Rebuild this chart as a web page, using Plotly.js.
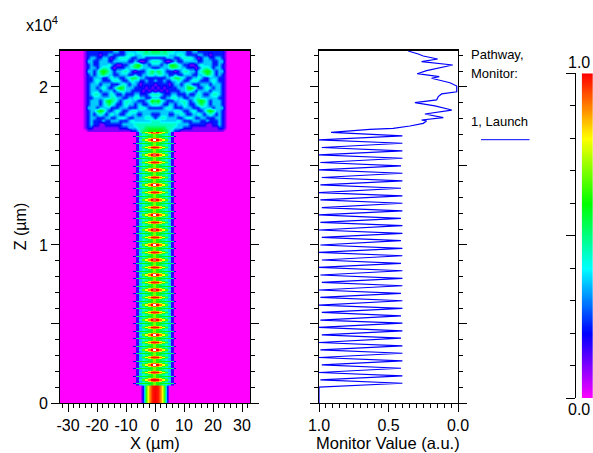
<!DOCTYPE html>
<html><head><meta charset="utf-8">
<script src="https://cdn.plot.ly/plotly-3.0.1.min.js"></script>
<style>html,body{margin:0;padding:0;background:#fff}</style></head>
<body><div id="chart" style="width:593px;height:453px"></div>
<script>
// ---------- field data (half profiles, centre -> edge; pattern is mirror symmetric)
const inputProfile = [1,0.98,0.87,0.65,0.22,0];
const lobePeak = [1.02,0.98,1.06,0.97,1.06,0.98,1.06,0.98,1.03,0.97,1.06,0.98,1.03,0.97,1.06,0.98,1.03,0.98,1.06,0.97,1.03,0.98,1.06,0.97,1.03,0.98,1.06,0.98,1.06,0.98,1.03,0.99,1.06,0.85];
const lobePeakProfile = [0,1.0,0.9,0.8,0.65,0.45,0.15,0,0];
const lobeNearProfile = [0.92,0.88,0.78,0.62,0.5,0.35,0.15,0,0];
const lobeWideProfile = [0.68,0.62,0.60,0.60,0.60,0.60,0.50,0.20,0];
const lobeFlankProfile = [0.70,0.62,0.54,0.48,0.44,0.36,0.15,0,0];
// level of each step in upperRows
const upperLevels = [0,0.1,0.22,0.36,0.45,0.54,0.62];
// expansion region, top row first
const upperRows = [
[5,5,4,5,4,4,4,3,3,3,3,2,2,3,3,2,2,2,2,2,2,2,2,2,1,0],
[4,4,4,4,4,3,3,3,4,4,3,2,2,2,2,3,3,2,2,1,2,2,2,2,1,0],
[2,2,2,2,3,3,3,2,2,3,4,4,4,3,2,1,2,3,3,2,2,3,3,2,1,0],
[4,4,3,2,1,1,2,3,2,2,3,3,3,3,3,2,2,3,3,3,2,2,3,3,1,0],
[3,3,2,3,3,5,6,5,4,3,2,2,1,1,2,3,4,3,3,3,2,2,3,2,1,0],
[2,2,3,3,3,4,5,5,4,3,3,2,2,2,1,2,3,4,4,3,2,3,3,2,1,0],
[4,5,4,3,2,2,2,1,2,3,4,4,3,3,2,3,4,5,6,5,3,2,3,3,1,0],
[3,4,4,3,3,2,2,3,2,2,3,3,3,2,2,3,3,4,5,4,3,2,3,2,1,0],
[2,2,2,2,3,3,4,5,5,4,3,2,2,3,3,4,3,2,2,3,3,3,2,2,1,0],
[3,2,2,3,2,2,3,3,4,3,2,2,3,4,4,3,2,2,2,3,4,3,2,2,1,0],
[1,2,2,2,2,1,2,3,3,2,3,4,3,2,2,2,3,3,3,2,3,3,3,2,1,0],
[2,1,2,1,2,2,2,2,3,3,3,5,6,5,3,2,2,3,4,3,2,3,3,2,1,0],
[1,2,1,2,1,2,2,2,2,3,3,4,4,3,2,3,3,3,3,2,3,3,3,2,1,0],
[4,4,3,2,2,2,3,3,2,2,2,3,2,2,3,4,3,2,2,3,4,4,3,2,1,0],
[3,3,2,2,3,3,4,4,3,3,2,2,3,3,4,4,3,3,3,3,3,3,2,2,1,0],
[5,6,4,3,2,2,2,3,3,4,4,3,2,3,4,5,6,5,3,2,3,3,3,2,1,0],
[4,4,3,2,2,3,3,2,3,3,4,3,2,2,3,4,5,4,3,2,3,3,3,2,1,0],
[2,2,2,3,4,4,3,2,2,2,3,3,3,2,2,2,3,3,3,3,2,3,3,3,1,0],
[3,3,3,3,3,3,3,4,4,3,2,2,3,4,3,2,2,3,5,6,5,3,3,2,1,0],
[2,2,3,3,3,2,2,3,3,4,3,2,2,3,3,4,3,2,3,4,3,2,3,2,1,0],
[2,3,4,4,3,3,3,3,2,2,3,4,4,3,2,2,3,3,2,2,2,3,3,2,1,0],
[4,4,3,3,3,3,3,3,4,3,2,2,2,3,3,3,2,2,3,2,2,2,3,2,1,0],
[4,4,4,4,4,4,4,4,3,3,3,3,2,2,2,2,2,2,1,1,2,2,3,2,1,0],
[5,5,5,5,4,4,4,3,3,3,2,2,2,1,1,1,1,1,1,1,1,1,2,2,1,0],
[6,6,6,5,5,4,3,2,2,1,1,1,1,1,1,1,1,1,1,1,1,1,1,1,0,0]
];
// ---------- monitor curve
const startZ = [0,0.10];
const startV = [1.0,1.0];
const rightZ = [0.125,0.172,0.220,0.267,0.315,0.362,0.410,0.457,0.505,0.552,0.599,0.647,0.694,0.742,0.789,0.837,0.884,0.932,0.979,1.027,1.074,1.122,1.169,1.216,1.264,1.311,1.359,1.406,1.454,1.501,1.549,1.596,1.644,1.691];
const rightV = [0.40,0.40,0.41,0.40,0.40,0.40,0.41,0.40,0.40,0.41,0.40,0.40,0.41,0.40,0.40,0.40,0.41,0.40,0.40,0.41,0.40,0.40,0.41,0.40,0.40,0.40,0.41,0.40,0.40,0.41,0.40,0.40,0.40,0.40];
const leftZ = [0.146,0.193,0.241,0.288,0.336,0.383,0.431,0.478,0.525,0.573,0.620,0.668,0.715,0.763,0.810,0.858,0.905,0.953,1.000,1.048,1.095,1.143,1.190,1.237,1.285,1.332,1.380,1.427,1.475,1.522,1.570,1.617,1.665];
const leftV = [0.99,1.0,0.98,1.0,0.99,1.0,0.98,1.0,0.99,0.98,1.0,0.99,1.0,0.98,0.99,1.0,0.98,1.0,0.99,0.98,1.0,0.99,1.0,0.98,0.99,1.0,0.99,0.98,1.0,0.99,1.0,0.98,1.0];
const tailZ = [1.713,1.732,1.738,1.753,1.770,1.785,1.791,1.806,1.829,1.854,1.880,1.901,1.918,1.939,1.956,1.970,2.006,2.027,2.055,2.065,2.084,2.103,2.139,2.160,2.177,2.196,2.209,2.228];
const tailV = [0.913,0.634,0.466,0.346,0.25,0.226,0.262,0.106,0.238,0.045,0.166,0.31,0.154,0.142,0.118,0.009,0.009,0.058,0.19,0.135,0.293,0.226,0.038,0.262,0.146,0.25,0.286,0.358];
// ---------- tick labels
const xTickVals = [-30,-20,-10,0,10,20,30];
const xTickText = ['-30','-20','-10','0','10','20','30'];
const zTickVals = [0,1,2];
const zTickText = ['0','1','2'];
const zMidTicks = [0.5,1.5];
const monTickVals = [1,0.5,0];
const monTickText = ['1.0','0.5','0.0'];

const W=593,H=453;
const dx=(a,b)=>[a/W,b/W], dy=(top,bot)=>[(H-bot)/H,(H-top)/H];
const mirror=r=>r.slice(1).reverse().concat(r);
const axisX=r=>{const n=(r.length-1);const o=[];for(let i=-n;i<=n;i++)o.push(i);return o;};
const zMax=1.1;
const scale=[[0,'#ff00ff'],[0.2/zMax,'#0000ff'],[0.4/zMax,'#00ffff'],[0.6/zMax,'#00ff00'],[0.8/zMax,'#ffff00'],[1/zMax,'#ff0000'],[1.02/zMax,'#ff0000'],[1.05/zMax,'#ffffff'],[1,'#ffffff']];
const hm=(o)=>Object.assign({type:'heatmap',colorscale:scale,zmin:0,zmax:zMax,showscale:false,hoverinfo:'skip'},o);

const inputTrace=hm({x:axisX(inputProfile),y:[0,0.105],z:[mirror(inputProfile),mirror(inputProfile)],zsmooth:'best'});
const coreRows=[];
lobePeak.forEach((p,k)=>{
  coreRows.push(mirror(lobeFlankProfile));
  coreRows.push(mirror(lobeWideProfile));
  coreRows.push(mirror(lobeFlankProfile));
  coreRows.push(mirror(lobeNearProfile));
  const pk=lobePeakProfile.slice();pk[0]=p;
  coreRows.push(mirror(pk));
  coreRows.push(mirror(lobeNearProfile));
});
const coreTrace=hm({x:axisX(lobeWideProfile),y0:0.114,dy:0.0079117,z:coreRows,zsmooth:false});
const upperZ=upperRows.slice().reverse().map(r=>mirror(r.map(v=>upperLevels[v])));
const upperTrace=hm({x:axisX(upperRows[0]),y0:1.724,dy:0.021,z:upperZ,zsmooth:'best'});
const monZ=[...startZ],monV=[...startV];
rightZ.forEach((z,i)=>{monZ.push(z);monV.push(rightV[i]);if(i<leftZ.length){monZ.push(leftZ[i]);monV.push(leftV[i]);}});
monZ.push(...tailZ);monV.push(...tailV);
const monTrace={type:'scatter',mode:'lines',x:monV,y:monZ,xaxis:'x2',yaxis:'y2',line:{color:'#0000ff',width:1.2},hoverinfo:'skip',showlegend:false};
const barLevels=[];for(let i=0;i<=100;i++)barLevels.push(i/100);
const barTrace=hm({x:[0,1],y:barLevels,z:barLevels.map(v=>[v,v]),xaxis:'x3',yaxis:'y3',zsmooth:'best'});
const midTickHolder={type:'scatter',mode:'none',x:[0],y:[0],xaxis:'x',yaxis:'y4',hoverinfo:'skip',showlegend:false};

const font={family:'Liberation Sans, Arial, sans-serif',size:16,color:'#000'};
const titleFont={family:font.family,size:16.5,color:'#000'};
const axBase={showgrid:false,zeroline:false,showline:true,linecolor:'#000',linewidth:1,ticks:'outside',tickcolor:'#000',tickwidth:1,ticklen:8,tickfont:font,tickmode:'array'};
const yRange=[0,2.234];
const annot=(x,y,text,extra)=>Object.assign({xref:'paper',yref:'paper',x:x/W,y:(H-y)/H,text,showarrow:false,font:{family:font.family,size:13,color:'#000'},xanchor:'left',yanchor:'middle'},extra||{});
const layout={
 width:W,height:H,margin:{l:0,r:0,t:0,b:0},paper_bgcolor:'#fff',plot_bgcolor:'rgba(0,0,0,0)',showlegend:false,font,
 xaxis:Object.assign({},axBase,{domain:dx(60,250),range:[-32.76,32.76],tickvals:xTickVals,ticktext:xTickText,anchor:'y',mirror:true,
   minor:{tickmode:'linear',tick0:0,dtick:2,ticks:'outside',ticklen:4,tickcolor:'#000',tickwidth:1,showgrid:false}}),
 yaxis:Object.assign({},axBase,{domain:dy(50,403),range:yRange,tickvals:zTickVals,ticktext:zTickText,anchor:'x',mirror:'ticks',
   minor:{tickmode:'linear',tick0:0,dtick:0.1,ticks:'outside',ticklen:4,tickcolor:'#000',tickwidth:1,showgrid:false},
   title:{text:'Z (µm)',font,standoff:8}}),
 yaxis4:Object.assign({},axBase,{domain:dy(50,403),range:yRange,tickvals:zMidTicks,showticklabels:false,overlaying:'y',anchor:'x',mirror:'ticks',showline:false}),
 xaxis2:Object.assign({},axBase,{domain:dx(319,458),range:[1,0],tickvals:monTickVals,ticktext:monTickText,anchor:'y2',mirror:true,
   minor:{tickmode:'linear',tick0:0,dtick:0.05,ticks:'outside',ticklen:4,tickcolor:'#000',tickwidth:1,showgrid:false}}),
 yaxis2:Object.assign({},axBase,{domain:dy(50,403),range:yRange,tickvals:[0,0.5,1,1.5,2],anchor:'x2',mirror:'ticks',showticklabels:false,
   minor:{tickmode:'linear',tick0:0,dtick:0.1,ticks:'outside',ticklen:4,tickcolor:'#000',tickwidth:1,showgrid:false}}),
 xaxis3:{domain:dx(581.7,593),range:[0,1],visible:false,anchor:'y3',fixedrange:true},
 yaxis3:Object.assign({},axBase,{domain:dy(73.3,398),range:[0,1],anchor:'free',position:574.7/W,side:'left',tickvals:[0,0.5,1],showticklabels:false,ticklen:9,
   minor:{tickmode:'linear',tick0:0,dtick:0.1,ticks:'outside',ticklen:5,tickcolor:'#000',tickwidth:1,showgrid:false}}),
 shapes:[
  {type:'rect',xref:'x domain',yref:'y domain',x0:0,x1:1,y0:0,y1:1,fillcolor:'#ff00ff',line:{width:0},layer:'below'},
  {type:'line',xref:'x domain',yref:'y domain',x0:0,x1:1,y0:1,y1:1,line:{color:'#000',width:2}},
  {type:'line',xref:'x2 domain',yref:'y2 domain',x0:0,x1:1,y0:1,y1:1,line:{color:'#000',width:2}},
  {type:'line',xref:'paper',yref:'paper',x0:481/W,x1:529.5/W,y0:(H-139.7)/H,y1:(H-139.7)/H,line:{color:'#0000ff',width:1}}
 ],
 annotations:[
  annot(24,24,'x10<sup>4</sup>',{font:{family:font.family,size:16,color:'#000'}}),
  annot(469,54.5,'Pathway,'),
  annot(469,73.5,'Monitor:'),
  annot(469,121.5,'1, Launch'),
  annot(579,62,'1.0',{xanchor:'center',font}),
  annot(579,409,'0.0',{xanchor:'center',font}),
  annot(155,442.5,'X (µm)',{xanchor:'center',font:titleFont}),
  annot(388,442.5,'Monitor Value (a.u.)',{xanchor:'center',font:titleFont})
 ]
};
Plotly.newPlot('chart',[inputTrace,coreTrace,upperTrace,monTrace,barTrace,midTickHolder],layout,{displayModeBar:false,staticPlot:true});
</script></body></html>
